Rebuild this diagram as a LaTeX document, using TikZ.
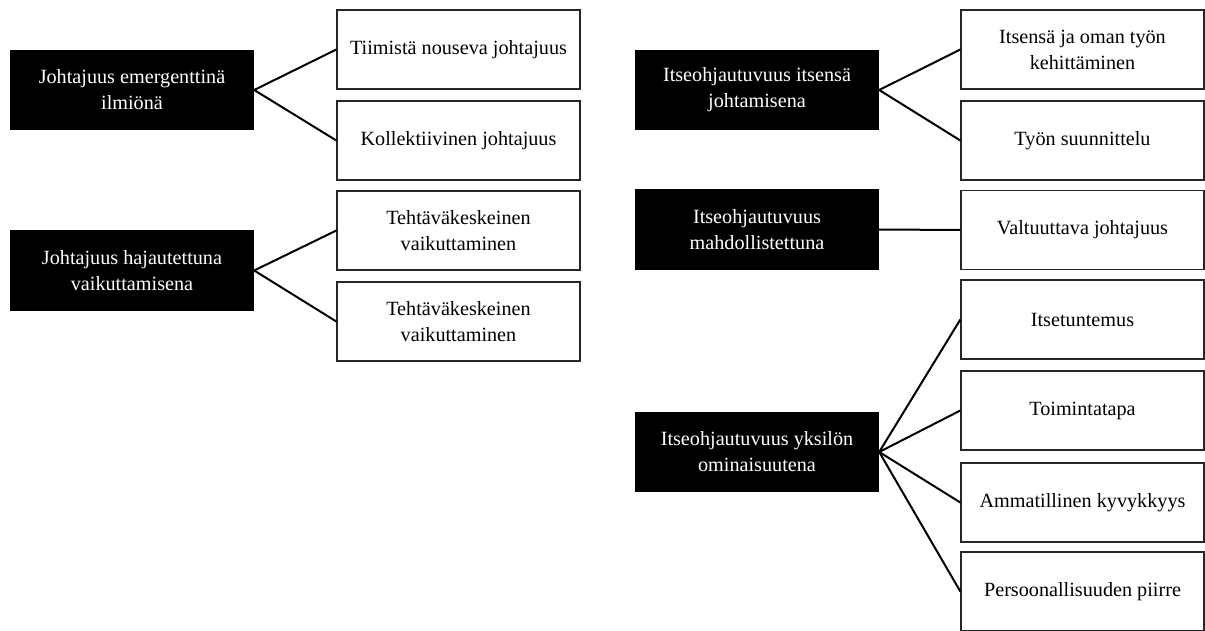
\documentclass[tikz,border=0pt]{standalone}
\usepackage{fontspec}
\setmainfont{Liberation Serif}
\begin{document}
\begin{tikzpicture}[x=1pt,y=-1pt,
  every node/.style={font=\fontsize{20.2}{26}\selectfont, align=center, inner sep=0pt},
  headbox/.style={rectangle, fill=black, text=white, minimum width=244pt, minimum height=80pt},
  itembox/.style={rectangle, draw=black!85, line width=1.3pt, fill=white, minimum width=243pt, minimum height=79pt},
  link/.style={line width=2pt, black}]
\useasboundingbox (0,0) rectangle (1205,631);

% left column: leadership as a shared phenomenon
\node[headbox] (emerg) at (132,90) {Johtajuus emergenttinä\\ilmiönä};
\node[headbox] (hajaut) at (132,270.5) {Johtajuus hajautettuna\\vaikuttamisena};

\node[itembox] (tiimi) at (458.5,49.5) {Tiimistä nouseva johtajuus};
\node[itembox] (kollekt) at (458.5,140.5) {Kollektiivinen johtajuus};
\node[itembox] (tehta1) at (458.5,230.5) {Tehtäväkeskeinen\\vaikuttaminen};
\node[itembox] (tehta2) at (458.5,321.5) {Tehtäväkeskeinen\\vaikuttaminen};

\draw[link] (emerg.east) -- (tiimi.west);
\draw[link] (emerg.east) -- (kollekt.west);
\draw[link] (hajaut.east) -- (tehta1.west);
\draw[link] (hajaut.east) -- (tehta2.west);

% right column: self-direction
\node[headbox] (itsjoht) at (757,90) {Itseohjautuvuus itsensä\\johtamisena};
\node[headbox] (mahdol) at (757,229.5) {Itseohjautuvuus\\mahdollistettuna};
\node[headbox] (yksil) at (757,452) {Itseohjautuvuus yksilön\\ominaisuutena};

\node[itembox] (kehit) at (1082.5,49.5) {Itsensä ja oman työn\\kehittäminen};
\node[itembox] (suunn) at (1082.5,140.5) {Työn suunnittelu};
\node[itembox] (valt) at (1082.5,230) {Valtuuttava johtajuus};
\node[itembox] (itset) at (1082.5,319.5) {Itsetuntemus};
\node[itembox] (toim) at (1082.5,410.5) {Toimintatapa};
\node[itembox] (ammat) at (1082.5,502.5) {Ammatillinen kyvykkyys};
\node[itembox] (perso) at (1082.5,591.5) {Persoonallisuuden piirre};

\draw[link] (itsjoht.east) -- (kehit.west);
\draw[link] (itsjoht.east) -- (suunn.west);
\draw[link] (mahdol.east) -- (valt.west);
\draw[link] (yksil.east) -- (itset.west);
\draw[link] (yksil.east) -- (toim.west);
\draw[link] (yksil.east) -- (ammat.west);
\draw[link] (yksil.east) -- (perso.west);
\end{tikzpicture}
\end{document}
